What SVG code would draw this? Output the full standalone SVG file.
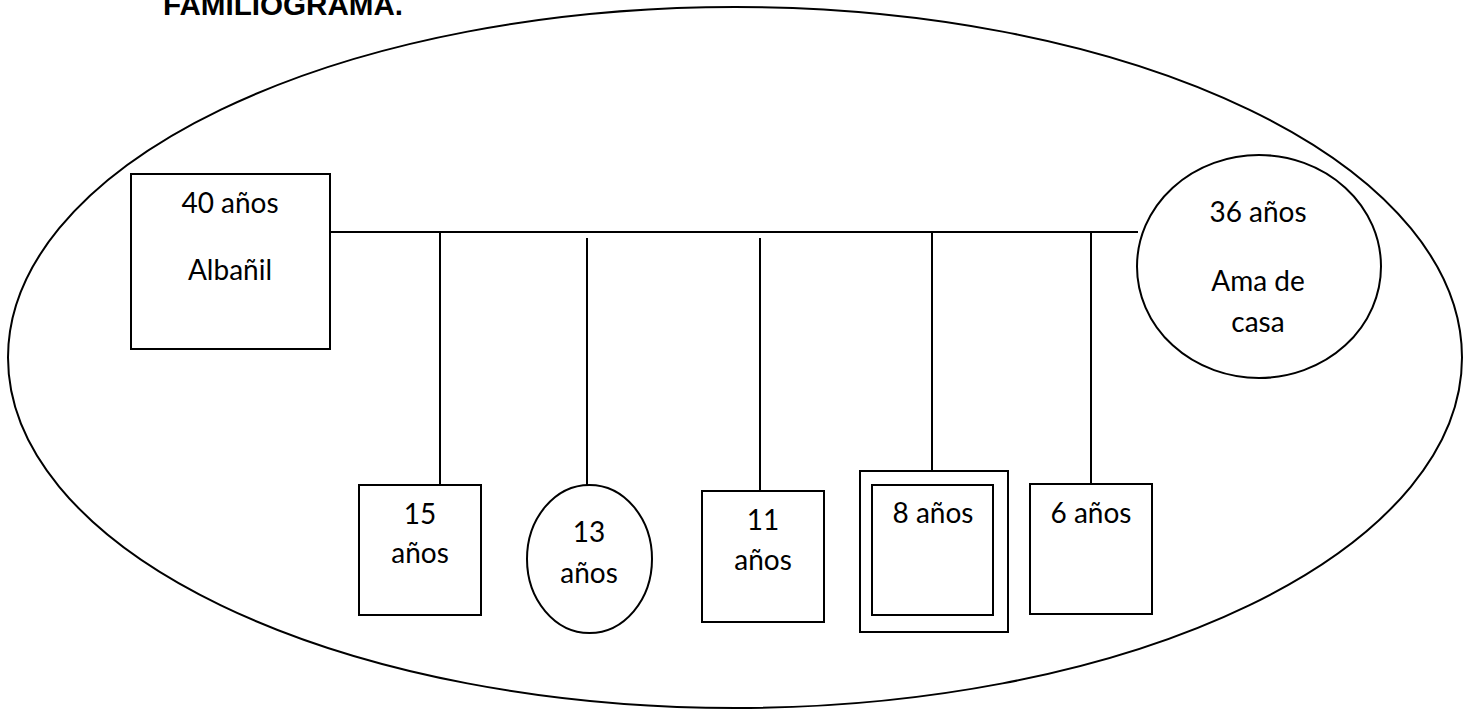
<svg xmlns="http://www.w3.org/2000/svg" width="1473" height="711" viewBox="0 0 1473 711">
<style>
.s{fill:none;stroke:#000;stroke-width:2}
.n{fill:#fff;stroke:#000;stroke-width:2}
.t{font-family:Lato,"Liberation Sans",sans-serif;font-size:28px;fill:#000;text-anchor:middle}
.title{font-family:"Liberation Sans",Arial,sans-serif;font-weight:bold;font-size:29px;fill:#000}
</style>
<rect width="1473" height="711" fill="#fff"/>
<text class="title" x="163" y="15" textLength="240" lengthAdjust="spacingAndGlyphs">FAMILIOGRAMA.</text>
<ellipse id="household" class="s" cx="735" cy="357.5" rx="727" ry="350.5"/>
<g id="connectors" class="s">
<line x1="330" y1="232" x2="1138" y2="232"/>
<line x1="440" y1="232" x2="440" y2="485"/>
<line x1="587" y1="238" x2="587" y2="485"/>
<line x1="760" y1="238" x2="760" y2="491"/>
<line x1="932" y1="232" x2="932" y2="471"/>
<line x1="1091" y1="232" x2="1091" y2="484"/>
</g>
<g id="father">
<rect class="n" x="131" y="174" width="199" height="175"/>
<text class="t" x="230" y="213">40 años</text>
<text class="t" x="230" y="280">Albañil</text>
</g>
<g id="mother">
<ellipse class="n" cx="1259" cy="266.5" rx="122" ry="111.5"/>
<text class="t" x="1258" y="222">36 años</text>
<text class="t" x="1258" y="291">Ama de</text>
<text class="t" x="1258" y="332">casa</text>
</g>
<g id="child15">
<rect class="n" x="359" y="485" width="122" height="130"/>
<text class="t" x="420" y="524">15</text>
<text class="t" x="420" y="563">años</text>
</g>
<g id="child13">
<ellipse class="n" cx="589.5" cy="559" rx="62.5" ry="74"/>
<text class="t" x="589" y="542">13</text>
<text class="t" x="589" y="583">años</text>
</g>
<g id="child11">
<rect class="n" x="702" y="491" width="122" height="131"/>
<text class="t" x="763" y="530">11</text>
<text class="t" x="763" y="570">años</text>
</g>
<g id="child8">
<rect class="n" x="860" y="471" width="148" height="161"/>
<rect class="n" x="872" y="485" width="121" height="130"/>
<text class="t" x="933" y="523">8 años</text>
</g>
<g id="child6">
<rect class="n" x="1030" y="484" width="122" height="130"/>
<text class="t" x="1091" y="523">6 años</text>
</g>
</svg>
